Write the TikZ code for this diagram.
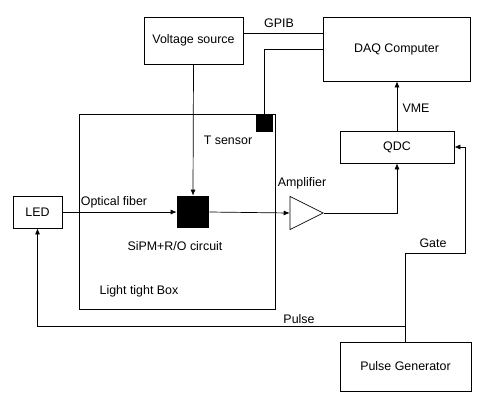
\documentclass[tikz,border=0pt]{standalone}
\usepackage{fontspec}
\setmainfont{Liberation Sans}
\usepackage{tikz}
\usetikzlibrary{shapes.geometric, arrows.meta, positioning, calc}

\begin{document}
\begin{tikzpicture}[x=0.03cm, y=-0.03cm, line width=0.6pt,
    font=\fontsize{10.6}{12}\selectfont, >={Latex[length=1.8mm,width=1.5mm]},
    box/.style={draw, rectangle, inner sep=0pt},
    chip/.style={fill=black, rectangle, inner sep=0pt}]
    \useasboundingbox (0,0) rectangle (498,406);

    % Instruments
    \node[box, minimum width=2.97cm, minimum height=1.41cm] (vsrc) at (193.5, 40.5) {Voltage source};
    \node[box, minimum width=4.41cm, minimum height=1.92cm] (daq) at (396.5, 49) {DAQ Computer};
    \node[box, minimum width=3.42cm, minimum height=0.96cm] (qdc) at (397, 147) {QDC};
    \node[box, minimum width=3.93cm, minimum height=1.47cm] (pulsegen) at (405.5, 366.5) {Pulse Generator};
    \node[box, minimum width=1.47cm, minimum height=0.96cm] (led) at (37.5, 212) {LED};

    % Light tight box with SiPM and T sensor
    \node[box, minimum width=5.88cm, minimum height=5.85cm] (lightbox) at (177, 211.5) {};
    \node[chip, minimum width=0.96cm, minimum height=0.96cm] (sipm) at (193, 212) {};
    \node[chip, minimum width=0.51cm, minimum height=0.54cm] (tsensor) at (264.5, 123) {};

    % Amplifier
    \node[draw, isosceles triangle, isosceles triangle stretches, inner sep=0pt,
          minimum width=0.99cm, minimum height=0.99cm, anchor=apex] (amp) at (324, 213) {};

    % Connections
    \draw (vsrc.east |- 0,33) -- (daq.west |- 0,33);
    \draw (tsensor.north) |- (daq.west |- 0,49);
    \draw[->] (vsrc.south) -- (sipm.north);
    \draw[->] (led.east) -- (sipm.west);
    \draw[->] (sipm.east) -- (amp.lower side);
    \draw[->] (amp.apex) -| (qdc.south);
    \draw[->] (qdc.north) -- (qdc.north |- daq.south);
    \coordinate (gatecorner) at (465, 253);
    \coordinate (pulsetap) at (pulsegen.north |- 0,326);
    \draw[->] (pulsegen.north) |- (gatecorner) |- (qdc.east);
    \draw[->] (pulsetap) -| (led.south);

    % Labels
    \node at (279, 23) {GPIB};
    \node at (416, 108) {VME};
    \node at (228, 140) {T sensor};
    \node at (114, 202) {Optical fiber};
    \node at (175, 246) {SiPM+R/O circuit};
    \node at (139, 291) {Light tight Box};
    \node at (302, 183) {Amplifier};
    \node at (433, 243) {Gate};
    \node at (299, 319) {Pulse};

\end{tikzpicture}
\end{document}
